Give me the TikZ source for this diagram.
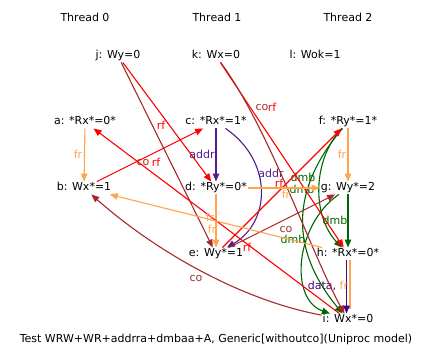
\documentclass[tikz,border=0pt]{standalone}
\usepackage{fontspec}
\setmainfont{DejaVu Sans}
\usetikzlibrary{arrows.meta}
\definecolor{rfred}{HTML}{FF0000}
\definecolor{cobrown}{HTML}{A52A2A}
\definecolor{frorange}{HTML}{FFA54F}
\definecolor{addrpurple}{HTML}{551A8B}
\definecolor{dataindigo}{HTML}{4B0082}
\definecolor{dmbgreen}{HTML}{006400}
\tikzset{
  ev/.style={inner xsep=1pt,inner ysep=1pt,text height=8pt,text depth=2.5pt},
  lab/.style={inner sep=0pt},
  rel/.style={line width=1.1pt,-{Triangle[length=8pt,width=6.5pt]}},
  erf/.style={rel,rfred},
  eco/.style={rel,cobrown},
  efr/.style={rel,frorange},
  eaddr/.style={rel,addrpurple},
  edata/.style={rel,dataindigo},
  edmb/.style={rel,dmbgreen}
}
\begin{document}
\begin{tikzpicture}[x=1pt,y=-1pt,every node/.style={font=\fontsize{11}{13}\selectfont}]
\useasboundingbox (0,0) rectangle (434,361);
% threads
\node (t0) at (85,17) {Thread 0};
\node (t1) at (217,17) {Thread 1};
\node (t2) at (348,17) {Thread 2};
% events
\node[ev] (j) at (118,56) {j: Wy=0};
\node[ev] (k) at (216,56) {k: Wx=0};
\node[ev] (l) at (315,56) {l: Wok=1};
\node[ev] (a) at (85,122) {a: *Rx*=0*};
\node[ev] (b) at (84,188) {b: Wx*=1};
\node[ev] (c) at (216,122) {c: *Rx*=1*};
\node[ev] (d) at (216,188) {d: *Ry*=0*};
\node[ev] (e) at (216,254) {e: Wy*=1};
\node[ev] (f) at (348,122) {f: *Ry*=1*};
\node[ev] (g) at (348,188) {g: Wy*=2};
\node[ev] (h) at (348,254) {h: *Rx*=0*};
\node[ev] (i) at (348,320) {i: Wx*=0};
\node (cap) at (216,339) {Test WRW+WR+addrra+dmbaa+A, Generic[withoutco](Uniproc model)};
% program order
\draw[efr] (a) -- (b) node[lab,text=frorange] at (78,154) {fr};
\draw[eaddr] (c) -- (d) node[lab,text=addrpurple] at (202,154) {addr};
\draw[efr] (d) -- (e) node[lab,text=frorange] at (212,229) {fr};
\draw[efr] (f) -- (g) node[lab,text=frorange] at (342,154) {fr};
\draw[edmb] (g) -- (h) node[lab,text=dmbgreen] at (335,220) {dmb};
\draw[frorange,line width=1.1pt] ([xshift=2pt]h.south) -- ([xshift=2pt,yshift=5pt]i.north);
\draw[edata] ([xshift=-1.5pt]h.south) -- ([xshift=-1.5pt]i.north)
  node[lab] at (328,286) {\textcolor{dataindigo}{data}, \textcolor{frorange}{fr}};
\draw[eaddr] (c) .. controls (272,160) and (272,221) .. (e)
  node[lab,text=addrpurple] at (271,173) {addr};
\draw[edmb] (f) .. controls (312,160) and (312,216) .. (h) node[lab,text=dmbgreen] at (303,177) {dmb};
\draw[edmb] (f) .. controls (290,190) and (290,250) .. (i) node[lab,text=dmbgreen] at (302,189) {dmb};
\draw[edmb] (g) .. controls (295,225) and (289,299) .. (i) node[lab,text=dmbgreen] at (293,239) {dmb};
% communications
\draw[eco] (j) -- (e) node[lab,text=cobrown] at (143,162) {co};
\draw[erf] (j) -- (d) node[lab,text=rfred] at (161,125) {rf};
\draw[erf] (b) -- (c) node[lab,text=rfred] at (156,162) {rf};
\draw[erf] (k) -- (h) node[lab,text=rfred] at (272,107) {rf};
\draw[eco] (k) .. controls (270,130) and (310,251) .. (i) node[lab,text=cobrown] at (262,107) {co};
\draw[eco] (i) .. controls (240,300) and (154,250) .. (b) node[lab,text=cobrown] at (196,278) {co};
\draw[eco] (e) -- (g) node[lab,text=cobrown] at (286,229) {co};
\draw[erf] (e) -- (f) node[lab,text=rfred] at (279,183) {rf};
\draw[erf] (i) -- (a) node[lab,text=rfred] at (247,247) {rf};
\draw[efr] (d) -- (g) node[lab,text=frorange] at (286,194) {fr};
\draw[efr] (h) -- (b) node[lab,text=frorange] at (210,217) {fr};
\end{tikzpicture}
\end{document}
